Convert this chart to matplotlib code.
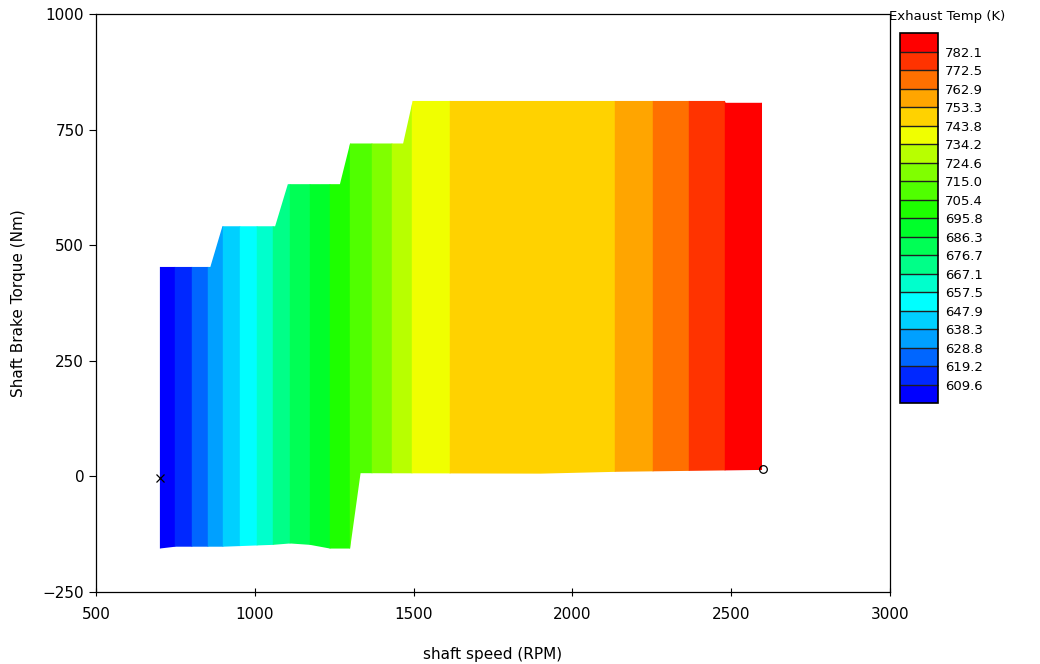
import numpy as np
import matplotlib
matplotlib.use("Agg")
import matplotlib.pyplot as plt
from matplotlib.colors import ListedColormap, BoundaryNorm
from matplotlib.patches import Polygon

# contour levels of exhaust temperature (K)
levels = [609.6, 619.2, 628.8, 638.3, 647.9, 657.5, 667.1, 676.7, 686.3, 695.8,
          705.4, 715.0, 724.6, 734.2, 743.8, 753.3, 762.9, 772.5, 782.1]
band_colors = ['#0000ff', '#0028ff', '#0066ff', '#00a0ff', '#00d0ff', '#00ffff',
               '#00ffcc', '#00ff88', '#00ff55', '#00ff2a', '#1eff00', '#50ff00',
               '#80ff00', '#b8ff00', '#f0ff00', '#ffd200', '#ffa500', '#ff7000',
               '#ff3300', '#ff0000']

# speed bands (RPM) and the exhaust temperature in each band
speed_edges = [700, 750, 802, 853, 900, 953, 1007, 1057, 1111, 1174, 1237, 1300,
               1369, 1432, 1495, 1615, 2134, 2254, 2367, 2480, 2597]
band_temp = [605.0, 614.4, 624.0, 633.5, 643.1, 652.7, 662.3, 671.9, 681.5, 691.0,
             700.6, 710.2, 719.8, 729.4, 739.0, 748.5, 758.1, 767.7, 777.3, 786.0]

# operating envelope (speed, torque)
top_speed = [700, 860, 898, 1064, 1104, 1268, 1300, 1467, 1497, 2480, 2482, 2597]
top_torque = [453, 453, 541, 541, 632, 632, 720, 720, 812, 812, 808, 808]
bot_speed = [2597, 2140, 1900, 1333, 1300, 1237, 1174, 1111, 1057, 900, 750, 700]
bot_torque = [14, 10, 6, 7, -156, -156, -148, -145, -148, -152, -152, -156]

# start / end markers
start_pt = (700, -3)
end_pt = (2600, 17)

fig = plt.figure(figsize=(10.4, 6.64), dpi=100)
ax = fig.add_axes([0.0923, 0.1084, 0.7635, 0.8705])

cmap = ListedColormap(band_colors[1:-1])
cmap.set_under(band_colors[0])
cmap.set_over(band_colors[-1])
norm = BoundaryNorm(levels, cmap.N)

envelope = Polygon(list(zip(top_speed, top_torque)) + list(zip(bot_speed, bot_torque)),
                   closed=True, facecolor='none', edgecolor='none')
ax.add_patch(envelope)

for i, t in enumerate(band_temp):
    c = cmap(norm(t))
    band = ax.fill_between([speed_edges[i], speed_edges[i + 1]], -300, 1000,
                           color=c, linewidth=0.3, edgecolor=c)
    band.set_clip_path(envelope)

ax.plot(*start_pt, marker='x', color='black', markersize=6, markeredgewidth=0.9)
ax.plot(*end_pt, marker='o', markerfacecolor='none', markeredgecolor='black',
        markersize=5.5, markeredgewidth=0.9)

ax.set_xlim(500, 3000)
ax.set_ylim(-250, 1000)
ax.set_xticks([500, 1000, 1500, 2000, 2500, 3000])
ax.set_yticks([-250, 0, 250, 500, 750, 1000])
ax.tick_params(axis='x', direction='inout', length=6, labelsize=11, pad=8)
ax.tick_params(axis='y', direction='out', length=5, labelsize=11)
ax.set_xlabel('shaft speed (RPM)', fontsize=11, labelpad=18)
ax.set_ylabel('Shaft Brake Torque (Nm)', fontsize=11, labelpad=12)
for s in ax.spines.values():
    s.set_linewidth(0.9)

# colorbar
cax = fig.add_axes([0.8654, 0.393, 0.0365, 0.557])
sm = plt.cm.ScalarMappable(cmap=cmap, norm=norm)
cb = fig.colorbar(sm, cax=cax, extend='both', extendfrac=1.0 / 18,
                  extendrect=True, ticks=levels, drawedges=True)
cb.set_ticklabels(['%.1f' % v for v in levels])
cb.ax.tick_params(length=0, labelsize=9.5, pad=5)
cb.outline.set_linewidth(1.2)
cb.dividers.set_color('#202020')
cb.dividers.set_linewidth(1.0)
fig.text(0.855, 0.966, 'Exhaust Temp (K)', fontsize=9.5, ha='left', va='bottom')

fig.savefig('out.png', dpi=100)
